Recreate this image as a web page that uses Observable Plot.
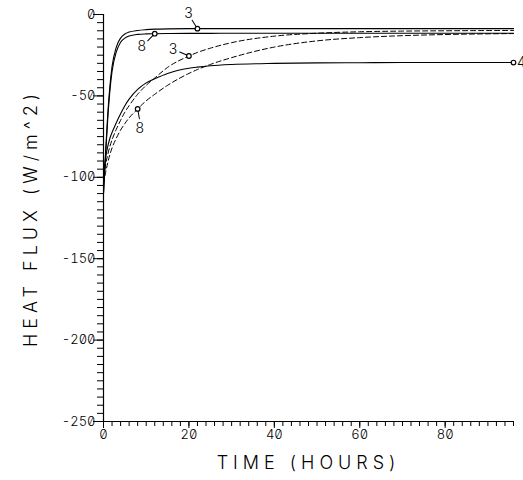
<!DOCTYPE html>
<html><head><meta charset="utf-8">
<script src="https://cdn.jsdelivr.net/npm/d3@7"></script>
<script src="https://cdn.jsdelivr.net/npm/@observablehq/plot@0.6"></script>
<style>
html,body{margin:0;padding:0;background:#fff;}
svg text{font-feature-settings:"zero" 1;}
</style></head><body><div id="chart"></div>
<script>
// ---- data (hours, W/m^2) ----
const times   = [0,0.5,1,1.5,2,3,4,5,6,8,10,12,15,20,22,25,30,40,50,60,70,80,96];
const solid3  = [-110,-84,-61,-44,-32,-20,-14.5,-12,-10.8,-9.8,-9.3,-9.0,-8.8,-8.7,-8.7,-8.7,-8.7,-8.7,-8.7,-8.7,-8.7,-8.7,-8.7];
const solid8  = [-110,-86,-64,-47,-35,-23,-17,-14.5,-13.2,-12.2,-11.9,-11.8,-11.7,-11.6,-11.6,-11.6,-11.5,-11.5,-11.5,-11.5,-11.5,-11.5,-11.5];
const solidLow= [-100,-88,-81,-76,-72.5,-66.5,-61,-56,-52,-46,-42,-39.5,-36.2,-33,-32.3,-31.5,-30.7,-30,-29.7,-29.6,-29.5,-29.5,-29.5];
const dashed3 = [-100,-92,-86,-81,-77,-70.5,-65,-60,-56,-49,-43.5,-39,-32.5,-25.5,-23.3,-20.7,-17.3,-13.3,-11.5,-10.6,-10.2,-10,-9.8];
const dashed8 = [-104,-97,-91,-86,-82,-76,-71,-67,-63.5,-58,-53,-49,-43.5,-36.2,-33.8,-30.7,-26.5,-20,-16.2,-14.2,-13,-12.3,-11.7];

const seriesNames  = ["solid3","solid8","solidLow","dashed3","dashed8"];
const seriesValues = [solid3, solid8, solidLow, dashed3, dashed8];
const seriesDashed = [false, false, false, true, true];
const labelTexts   = ["3","8","4","3","8"];
const markerTimes  = [22, 12, 96, 20, 8];

const xTicks = [0,20,40,60,80];
const yTicks = [0,-50,-100,-150,-200,-250];
const xMinor = d3.range(0, 97, 2);
const yMinor = d3.range(-250, 1, 5);
const xTitle = ["TIME (HOURS)"];
const yTitle = ["HEAT FLUX (W/m^2)"];

// ---- layout / styles (not data) ----
const labelOffsets = [[-9,-15],[-13,13],[8,0],[-16,-6],[2,20]];
const leaderAngles = [-32,-135,null,-66,170];
const FONT = "Inter, 'DejaVu Sans', sans-serif";

const rows = [];
seriesNames.forEach((s, k) => times.forEach((t, i) => rows.push({series: s, dashed: seriesDashed[k], t, v: seriesValues[k][i]})));
const markers = seriesNames.map((s, k) => {
  const i = times.indexOf(markerTimes[k]);
  return {series: s, t: times[i], v: seriesValues[k][i], label: labelTexts[k], k};
});

const lineShape = {draw(ctx, l) { ctx.moveTo(0, 0); ctx.lineTo(0, -l); }};

const plot = Plot.plot({
  width: 523, height: 480,
  marginLeft: 103, marginRight: 10, marginTop: 14, marginBottom: 59,
  style: {fontFamily: FONT, background: "#fff", color: "#000"},
  x: {domain: [0, 96]},
  y: {domain: [-250, 0]},
  marks: [
    Plot.axisY({ticks: yMinor, tickSize: 6, tickFormat: () => "", label: null, strokeWidth: 1}),
    Plot.axisY({ticks: yTicks, tickSize: 10, tickPadding: -2, label: null, fontSize: 13, fontWeight: 300, tickFormat: d => String(d), strokeWidth: 1}),
    Plot.axisX({ticks: xMinor, tickSize: 5, tickFormat: () => "", label: null, strokeWidth: 1}),
    Plot.axisX({ticks: xTicks, tickSize: 7, tickPadding: 1, label: null, fontSize: 13, fontWeight: 300, strokeWidth: 1}),
    Plot.ruleX([0], {stroke: "#000", strokeWidth: 1.2}),
    Plot.ruleY([-250], {stroke: "#000", strokeWidth: 1.2}),
    Plot.line(rows.filter(d => !d.dashed), {x: "t", y: "v", z: "series", stroke: "#000", strokeWidth: 1.1, curve: "monotone-x"}),
    Plot.line(rows.filter(d => d.dashed), {x: "t", y: "v", z: "series", stroke: "#000", strokeWidth: 1, strokeDasharray: "5,3", curve: "monotone-x"}),
    Plot.vector(markers.filter(d => leaderAngles[d.k] != null), {x: "t", y: "v", rotate: d => leaderAngles[d.k], length: 10, anchor: "start", shape: lineShape, stroke: "#000", strokeWidth: 1}),
    Plot.dot(markers, {x: "t", y: "v", r: 2.3, stroke: "#000", fill: "#fff", strokeWidth: 1.2}),
    ...markers.map(m => Plot.text([m], {x: "t", y: "v", text: "label", dx: labelOffsets[m.k][0], dy: labelOffsets[m.k][1], fontSize: 14, fontWeight: 300, fill: "#000"})),
    Plot.text(xTitle, {frameAnchor: "bottom", dy: 47, textAnchor: "middle", text: d => d, fontSize: 18, fontWeight: 300, fill: "#000", className: "xtitle"}),
    Plot.text(yTitle, {frameAnchor: "left", dx: -72, rotate: -90, textAnchor: "middle", text: d => d, fontSize: 18, fontWeight: 300, fill: "#000", className: "ytitle"})
  ]
});
document.getElementById("chart").appendChild(plot);
d3.select(plot).selectAll("text").filter(function(){ return this.textContent === yTitle[0] || this.textContent === xTitle[0]; })
  .style("letter-spacing", "5px");
</script></body></html>
